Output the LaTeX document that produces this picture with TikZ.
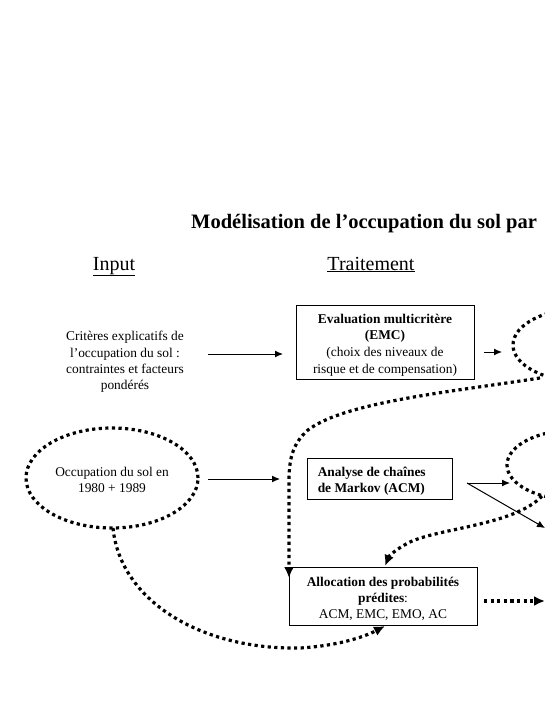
\documentclass[tikz,border=0pt]{standalone}
\usepackage{fontspec}
\setmainfont{Liberation Serif}
\usetikzlibrary{arrows.meta,shapes.geometric,calc}
\begin{document}
\begin{tikzpicture}[x=1pt,y=-1pt,
  txt/.style={font=\fontsize{13.4}{16.3}\selectfont, align=center, inner sep=0pt},
  hd/.style={font=\fontsize{20}{24}\selectfont, inner sep=0pt},
  box/.style={draw, line width=0.9pt, inner sep=0pt},
  dots/.style={line width=3.2pt, dash pattern=on 3.2pt off 3.4pt},
  dotell/.style={ellipse, draw, dots, inner sep=0pt},
  arr/.style={-{Latex[length=8pt,width=7pt]}, line width=1pt},
  darr/.style={dots, -{Latex[length=11pt,width=10pt]}}]
\useasboundingbox (0,0) rectangle (545,705);
\clip (0,0) rectangle (545,705);

% headings
\node[hd, font=\bfseries\fontsize{20.5}{24}\selectfont, anchor=base west] (title) at (191,228) {Modélisation de l’occupation du sol par};
\node[hd, anchor=base] (input) at (114,270) {\underline{Input}};
\node[hd, anchor=base] (trait) at (371,270) {\underline{Traitement}};

% input column
\node[txt] (crit) at (125,362) {Critères explicatifs de\\l’occupation du sol :\\contraintes et facteurs\\pondérés};
\node[dotell, minimum width=172pt, minimum height=100pt] (occ) at (112,478) {};
\node[txt] (occtxt) at (112,480) {Occupation du sol en\\1980 + 1989};

% processing column
\node[box, minimum width=178pt, minimum height=74pt] (emc) at (385,342) {};
\node[txt, font=\fontsize{13.4}{16.6}\selectfont] (emctxt) at ($(emc)+(0,3)$)
  {\textbf{Evaluation multicritère}\\\textbf{(EMC)}\\(choix des niveaux de\\risque et de compensation)};
\node[box, minimum width=145pt, minimum height=41pt] (acm) at (379.5,478.5) {};
\node[txt, align=left, anchor=west] (acmtxt) at ($(acm.west)+(11,3)$)
  {\textbf{Analyse de chaînes}\\\textbf{de Markov (ACM)}};
\node[box, minimum width=188pt, minimum height=58pt] (alloc) at (383,596) {};
\node[txt] (alloctxt) at ($(alloc)+(0,3)$)
  {\textbf{Allocation des probabilités}\\\textbf{prédites}:\\ACM, EMC, EMO, AC};

% right column (cut off)
\node[dotell, minimum width=144pt, minimum height=74pt] (e1) at (585,345) {};
\node[dotell, minimum width=136pt, minimum height=70pt] (e2) at (575,465) {};

% connector end points
\coordinate (c1s) at (208,354);
\coordinate (c1e) at (283,354);
\coordinate (c2s) at (484,352);
\coordinate (c2e) at (502,352);
\coordinate (c3s) at (208,479);
\coordinate (c3e) at (280,479);
\coordinate (c4s) at (467,483);
\coordinate (c4e) at (510,483);
\coordinate (c5e) at (545,528);
\coordinate (c6s) at (540,378);
\coordinate (c6e) at (289,578);
\coordinate (c7s) at (542,496);
\coordinate (c7e) at (385,566);
\coordinate (c8s) at (113,528);
\coordinate (c8e) at (385,626);
\coordinate (c9s) at (484,601);
\coordinate (c9e) at (545,601);

% solid arrows
\draw[arr] (c1s) -- (c1e);
\draw[arr] (c2s) -- (c2e);
\draw[arr] (c3s) -- (c3e);
\draw[arr] (c4s) -- (c4e);
\draw[arr] (c4s) -- (c5e);

% dotted arrows
\draw[darr] (c6s) .. controls (450,392) and (345,402) .. (308,430)
  .. controls (292,444) and (289,460) .. (289,482) -- (c6e);
\draw[darr] (c7s) .. controls (515,525) and (440,528) .. (410,542)
  .. controls (396,549) and (389,556) .. (c7e);
\draw[darr] (c8s) .. controls (120,600) and (200,650) .. (300,648)
  .. controls (335,646) and (362,638) .. (c8e);
\draw[darr] (c9s) -- (c9e);
\end{tikzpicture}
\end{document}
